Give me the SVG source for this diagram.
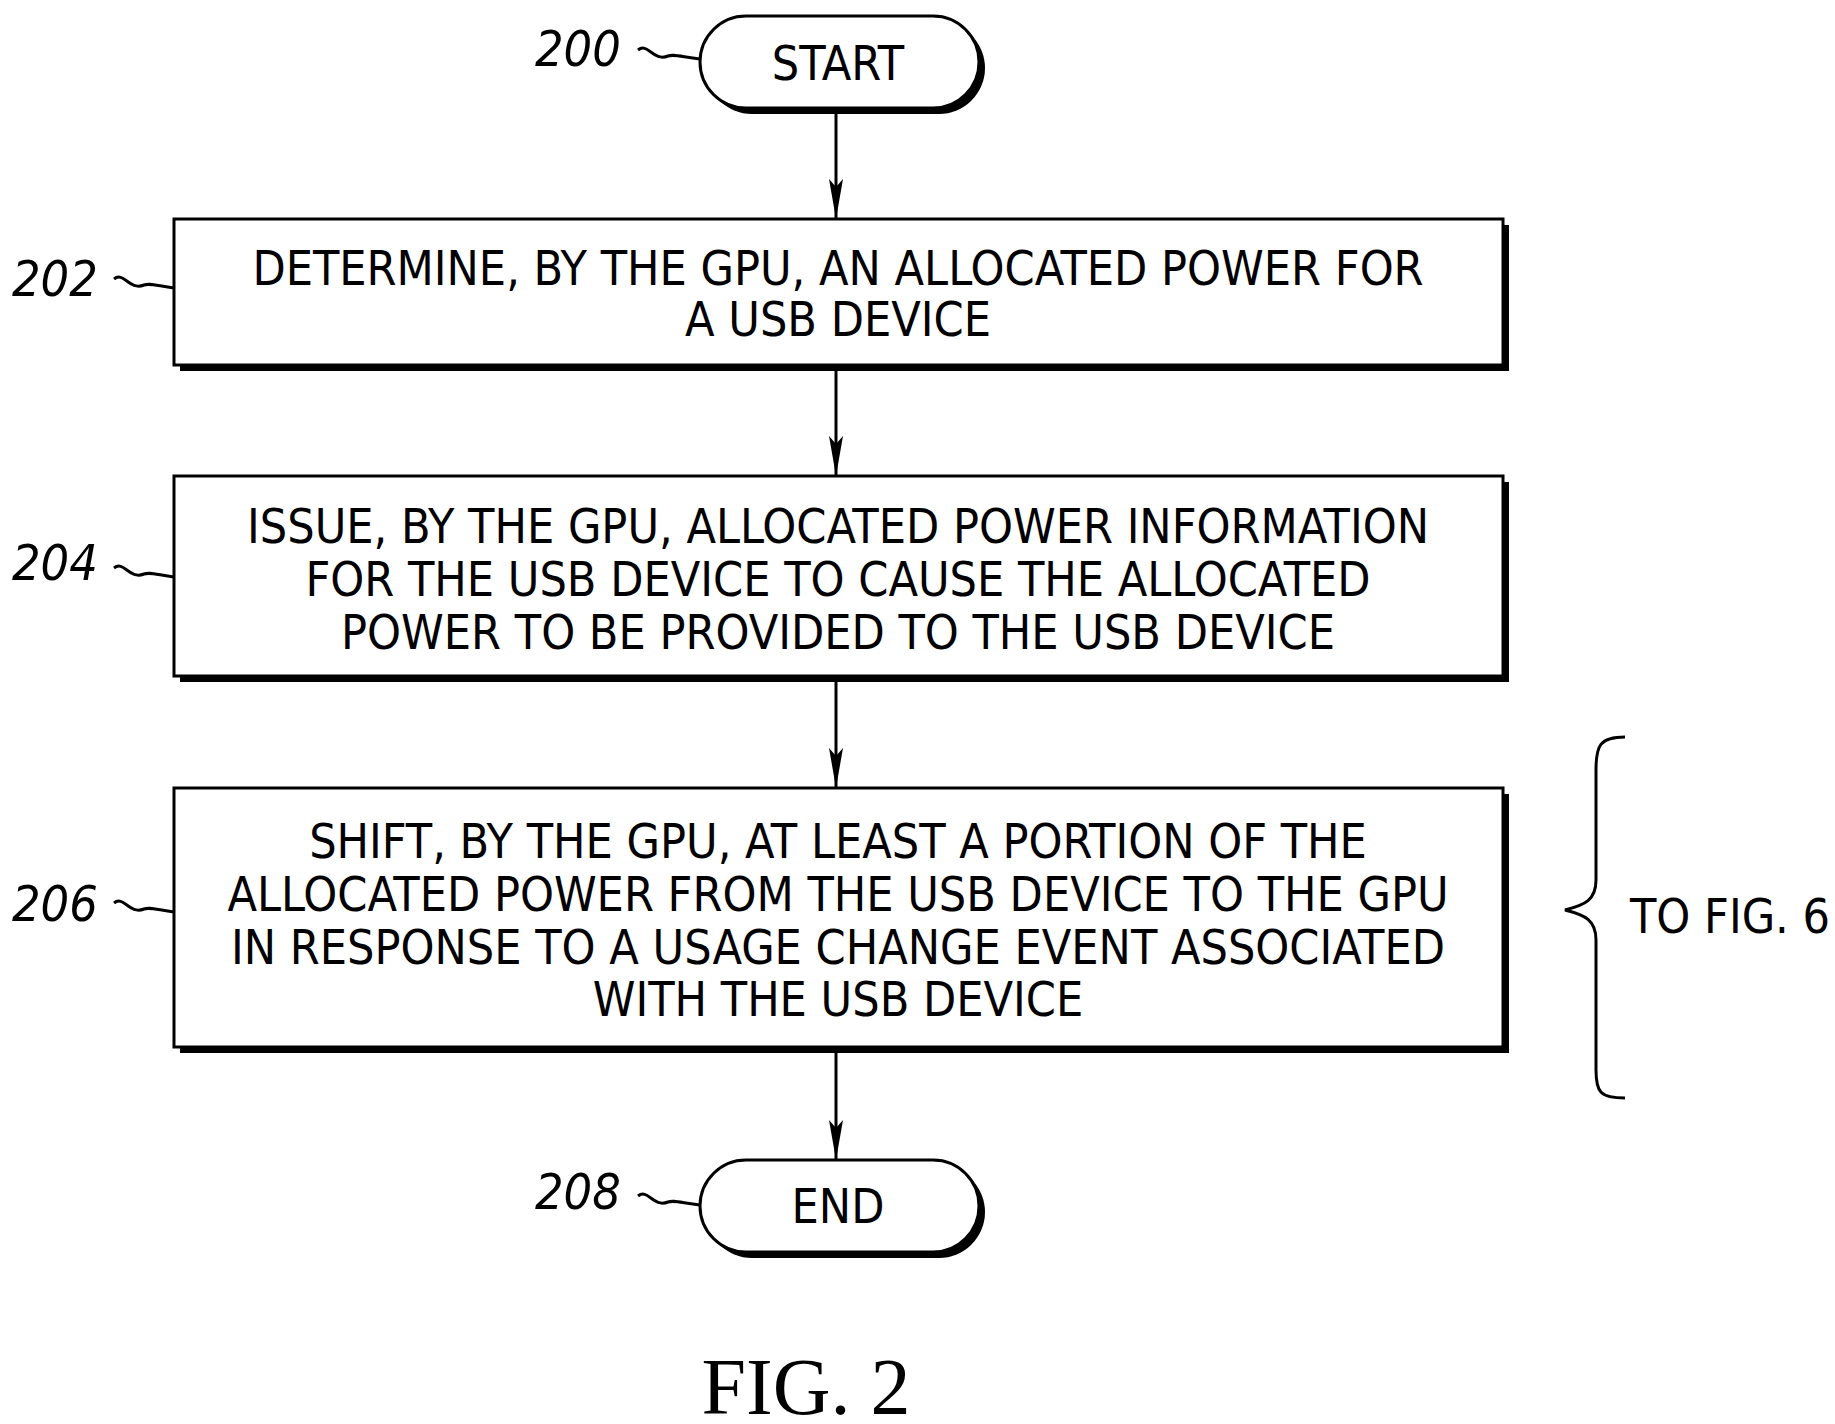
<svg xmlns="http://www.w3.org/2000/svg" width="1835" height="1424" viewBox="0 0 1835 1424">
<style>
.t{font-family:"DejaVu Sans Condensed","DejaVu Sans",sans-serif;font-stretch:condensed;font-size:48px;text-anchor:middle;fill:#000}
.l{font-family:"DejaVu Sans Condensed","DejaVu Sans",sans-serif;font-style:italic;font-size:50px;fill:#000}
.b{fill:#fff;stroke:#000;stroke-width:3}
.s{fill:#000}
.c{fill:none;stroke:#000;stroke-width:3}
</style>
<defs><marker id="a" markerWidth="40" markerHeight="14" refX="40" refY="7" orient="auto" markerUnits="userSpaceOnUse" viewBox="0 0 40 14"><path d="M0,0 L40,7 L0,14 L8,7 Z" fill="#000"/></marker></defs>
<rect width="1835" height="1424" fill="#fff"/>
<g id="connectors">
<line class="c" x1="836" y1="110" x2="836" y2="219" marker-end="url(#a)"/>
<line class="c" x1="836" y1="369" x2="836" y2="476" marker-end="url(#a)"/>
<line class="c" x1="836" y1="680" x2="836" y2="788" marker-end="url(#a)"/>
<line class="c" x1="836" y1="1051" x2="836" y2="1160" marker-end="url(#a)"/>
<path class="c" d="M638,50 c10,-8 15,12 30,6 c5,-2 10,0 32,3"/>
<path class="c" d="M114,279 c10,-8 15,12 30,6 c5,-2 10,0 30,3"/>
<path class="c" d="M114,568 c10,-8 15,12 30,6 c5,-2 10,0 30,3"/>
<path class="c" d="M114,903 c10,-8 15,12 30,6 c5,-2 10,0 30,3"/>
<path class="c" d="M638,1196 c10,-8 15,12 30,6 c5,-2 10,0 32,3"/>
</g>
<g id="n200"><rect class="s" x="706" y="22" width="279" height="92" rx="46"/><rect class="b" x="700" y="16" width="279" height="92" rx="46"/><text class="t" x="838" y="80">START</text><text class="l" x="535" y="66">200</text></g>
<g id="n202"><rect class="s" x="180" y="225" width="1329" height="146"/><rect class="b" x="174" y="219" width="1329" height="146"/><text class="t" x="838" y="285">DETERMINE, BY THE GPU, AN ALLOCATED POWER FOR</text><text class="t" x="838" y="336">A USB DEVICE</text><text class="l" x="12" y="296">202</text></g>
<g id="n204"><rect class="s" x="180" y="482" width="1329" height="200"/><rect class="b" x="174" y="476" width="1329" height="200"/><text class="t" x="838" y="543">ISSUE, BY THE GPU, ALLOCATED POWER INFORMATION</text><text class="t" x="838" y="596">FOR THE USB DEVICE TO CAUSE THE ALLOCATED</text><text class="t" x="838" y="649">POWER TO BE PROVIDED TO THE USB DEVICE</text><text class="l" x="12" y="580">204</text></g>
<g id="n206"><rect class="s" x="180" y="794" width="1329" height="259"/><rect class="b" x="174" y="788" width="1329" height="259"/><text class="t" x="838" y="858">SHIFT, BY THE GPU, AT LEAST A PORTION OF THE</text><text class="t" x="838" y="911">ALLOCATED POWER FROM THE USB DEVICE TO THE GPU</text><text class="t" x="838" y="964">IN RESPONSE TO A USAGE CHANGE EVENT ASSOCIATED</text><text class="t" x="838" y="1016">WITH THE USB DEVICE</text><text class="l" x="12" y="921">206</text></g>
<g id="n208"><rect class="s" x="706" y="1166" width="279" height="92" rx="46"/><rect class="b" x="700" y="1160" width="279" height="92" rx="46"/><text class="t" x="838" y="1223">END</text><text class="l" x="535" y="1209">208</text></g>
<g id="brace"><path class="c" d="M1625,737 C1600,737 1596,745 1596,770 L1596,880 C1596,900 1585,905 1565,910 C1585,915 1596,920 1596,940 L1596,1070 C1596,1092 1600,1098 1625,1098"/><text class="t" x="1830" y="933" style="text-anchor:end">TO FIG. 6</text></g>
<text x="806" y="1414" font-family="Liberation Serif, serif" font-size="80" text-anchor="middle">FIG. 2</text>
</svg>
